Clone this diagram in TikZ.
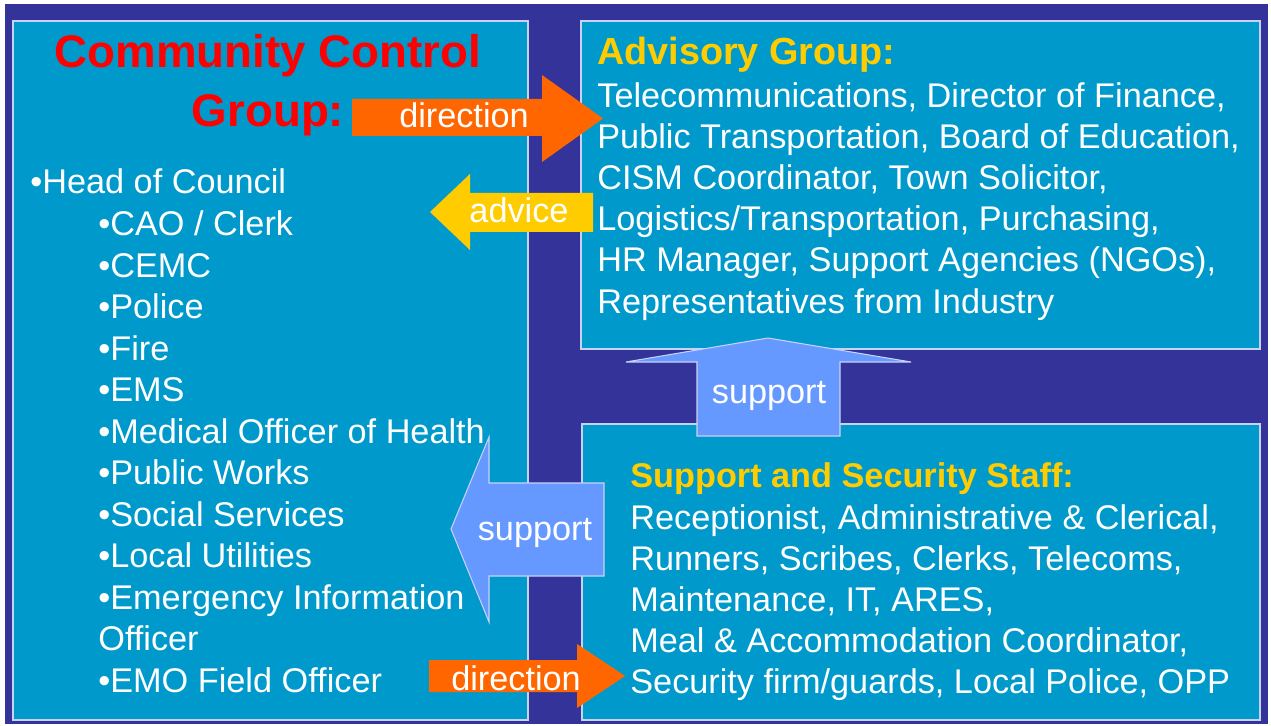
\documentclass[tikz,border=0pt]{standalone}
\usepackage{fontspec}
\setmainfont{Liberation Sans}
\usetikzlibrary{fit}
\definecolor{navy}{RGB}{51,51,153}
\definecolor{panel}{RGB}{0,153,204}
\definecolor{rim}{RGB}{200,210,245}
\definecolor{dirorange}{RGB}{255,102,0}
\definecolor{gold}{RGB}{255,204,0}
\definecolor{supblue}{RGB}{102,153,255}
\tikzset{
  panel box/.style={
    fit={#1}, inner sep=0pt,
    draw=rim, line width=0.8pt, fill=panel,
  },
  dir arrow/.style={fill=dirorange},
  adv arrow/.style={fill=gold},
  sup arrow/.style={fill=supblue, draw=rim, line width=0.6pt},
  listline/.style={
    text=white, inner sep=0pt, anchor=base west,
    font=\fontsize{19.5}{23}\selectfont,
  },
  arrowtext/.style={
    text=white, inner sep=0pt, anchor=base,
    font=\fontsize{19.5}{23}\selectfont,
  },
  grouptitle/.style={
    inner sep=0pt, font=\bfseries\fontsize{#1}{26}\selectfont,
  },
}

\begin{document}
\begin{tikzpicture}[x=0.02cm, y=-0.02cm]
\useasboundingbox (0,0) rectangle (1271,726);
\fill[navy] (5,4) rectangle (1268,724);

% the three groups
\node[panel box={(13,21)(528,720)}] (ccg) {};
\node[panel box={(581,21)(1260,349)}] (adv) {};
\node[panel box={(582,424)(1260,720)}] (sss) {};

% block arrows
\fill[dir arrow] (352,99) -- (542,99) -- (542,75) -- (603,118.5)
  -- (542,162) -- (542,136) -- (352,136) -- cycle;
\fill[adv arrow] (593,193) -- (470,193) -- (470,174) -- (430,212)
  -- (470,250) -- (470,232) -- (593,232) -- cycle;
\filldraw[sup arrow] (697,436) -- (697,362) -- (626,362) -- (768,338)
  -- (911,362) -- (840,362) -- (840,436) -- cycle;
\filldraw[sup arrow] (604,483) -- (489,483) -- (489,437) -- (451,529)
  -- (489,622) -- (489,576) -- (604,576) -- cycle;
\fill[dir arrow] (429,660) -- (577,660) -- (577,644) -- (625,676)
  -- (577,708) -- (577,692) -- (429,692) -- cycle;

\node[arrowtext] (dir-a) at (464,128) {direction};
\node[arrowtext] (advice) at (519,223) {advice};
\node[arrowtext] (sup-a) at (769,403) {support};
\node[arrowtext] (sup-b) at (535,540) {support};
\node[arrowtext] (dir-b) at (516,690) {direction};

% community control group
\node[grouptitle=26, text=red, anchor=base] (ccg-t1) at (268,68) {Community Control};
\node[grouptitle=26, text=red, anchor=base] (ccg-t2) at (268,127) {Group:};
\node[listline] (ccg-0) at (30,194) {•Head of Council};
\foreach \t [count=\i] in {•CAO / Clerk, •CEMC, •Police, •Fire, •EMS,
    •Medical Officer of Health, •Public Works, •Social Services,
    •Local Utilities, •Emergency Information, Officer, •EMO Field Officer}
  \node[listline] (ccg-\i) at (98,194+\i*41.5) {\t};

% advisory group
\node[grouptitle=21.5, text=gold, anchor=base west] (adv-t) at (597,65) {Advisory Group:};
\foreach \t [count=\i] in {{Telecommunications, Director of Finance,},
    {Public Transportation, Board of Education,},
    {CISM Coordinator, Town Solicitor,},
    {Logistics/Transportation, Purchasing,},
    {HR Manager, Support Agencies (NGOs),},
    {Representatives from Industry}}
  \node[listline] (adv-\i) at (597,66+\i*41.2) {\t};

% support and security staff
\node[grouptitle=19.5, text=gold, anchor=base west] (sss-t) at (630,487) {Support and Security Staff:};
\foreach \t [count=\i] in {{Receptionist, Administrative \& Clerical,},
    {Runners, Scribes, Clerks, Telecoms,},
    {Maintenance, IT, ARES,},
    {Meal \& Accommodation Coordinator,},
    {Security firm/guards, Local Police, OPP}}
  \node[listline] (sss-\i) at (630,488+\i*41) {\t};
\end{tikzpicture}
\end{document}
